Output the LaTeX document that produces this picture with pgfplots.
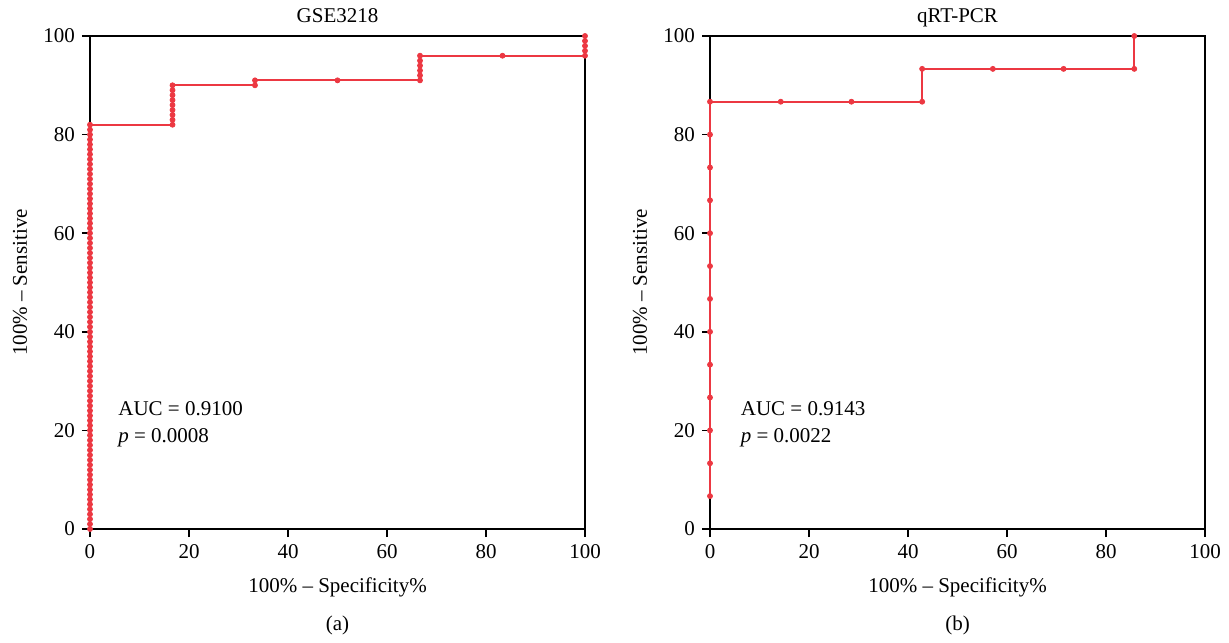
\documentclass[border=0pt]{standalone}
\usepackage{pgfplots}
\pgfplotsset{compat=1.18}
\usepackage{fontspec}
\setmainfont{Liberation Serif}
\definecolor{rocred}{RGB}{236,56,66}

\tikzset{roctext/.style={font=\fontsize{10.5}{12}\selectfont}}

\pgfplotsset{
  rocaxis/.style={
    scale only axis, width=247.5pt, height=246.5pt,
    xmin=0, xmax=100, ymin=0, ymax=100,
    xtick={0,20,...,100}, ytick={0,20,...,100},
    xtick pos=bottom, ytick pos=left, tick align=outside,
    major tick length=4pt,
    axis line style={black, line width=0.75pt},
    tick style={black, line width=0.75pt},
    /pgf/number format/assume math mode=true,
    ticklabel style={font=\fontsize{10.5}{12}\selectfont},
    label style={font=\fontsize{10.5}{12}\selectfont},
    xlabel={100\% -- Specificity\%},
    ylabel={100\% -- Sensitive},
    xlabel style={at={(axis description cs:0.5,-0.1278)}, anchor=base},
    ylabel style={at={(axis description cs:-0.1414,0.5)}, anchor=center},
    clip=false,
  },
  rocline/.style={rocred, line width=0.9pt, mark=*, mark size=1.25pt,
    mark options={fill=rocred, draw=rocred, line width=0.4pt}},
}

\begin{document}
\begin{tikzpicture}
% overall page frame
\path[use as bounding box] (-45pt,-56.5pt) rectangle (569.5pt,264.5pt);

\begin{axis}[rocaxis, at={(0pt,0pt)}, anchor=south west]
\addplot[rocline] coordinates {
 (0,0) (0,1) (0,2) (0,3) (0,4) (0,5) (0,6) (0,7) (0,8) (0,9)
 (0,10) (0,11) (0,12) (0,13) (0,14) (0,15) (0,16) (0,17) (0,18) (0,19)
 (0,20) (0,21) (0,22) (0,23) (0,24) (0,25) (0,26) (0,27) (0,28) (0,29)
 (0,30) (0,31) (0,32) (0,33) (0,34) (0,35) (0,36) (0,37) (0,38) (0,39)
 (0,40) (0,41) (0,42) (0,43) (0,44) (0,45) (0,46) (0,47) (0,48) (0,49)
 (0,50) (0,51) (0,52) (0,53) (0,54) (0,55) (0,56) (0,57) (0,58) (0,59)
 (0,60) (0,61) (0,62) (0,63) (0,64) (0,65) (0,66) (0,67) (0,68) (0,69)
 (0,70) (0,71) (0,72) (0,73) (0,74) (0,75) (0,76) (0,77) (0,78) (0,79)
 (0,80) (0,81) (0,82)
 (16.67,82) (16.67,83) (16.67,84) (16.67,85) (16.67,86) (16.67,87) (16.67,88) (16.67,89) (16.67,90)
 (33.33,90) (33.33,91)
 (50,91)
 (66.67,91) (66.67,92) (66.67,93) (66.67,94) (66.67,95) (66.67,96)
 (83.33,96)
 (100,96) (100,97) (100,98) (100,99) (100,100)
};
\node[roctext, anchor=base] at (axis description cs:0.5,1.0264) {GSE3218};
\node[roctext, anchor=west] at (axis cs:4.3,24.5) {AUC = 0.9100};
\node[roctext, anchor=west] at (axis cs:4.3,18.6) {\textit{p} = 0.0008};
\node[roctext, anchor=base] at (axis description cs:0.5,-0.2049) {(a)};
\end{axis}

\begin{axis}[rocaxis, at={(310pt,0pt)}, anchor=south west]
\addplot[rocline] coordinates {
 (0,6.67) (0,13.33) (0,20) (0,26.67) (0,33.33) (0,40) (0,46.67)
 (0,53.33) (0,60) (0,66.67) (0,73.33) (0,80) (0,86.67)
 (14.29,86.67) (28.57,86.67) (42.86,86.67) (42.86,93.33)
 (57.14,93.33) (71.43,93.33) (85.71,93.33) (85.71,100)
};
\node[roctext, anchor=base] at (axis description cs:0.5,1.0264) {qRT-PCR};
\node[roctext, anchor=west] at (axis cs:4.8,24.5) {AUC = 0.9143};
\node[roctext, anchor=west] at (axis cs:4.8,18.6) {\textit{p} = 0.0022};
\node[roctext, anchor=base] at (axis description cs:0.5,-0.2049) {(b)};
\end{axis}
\end{tikzpicture}
\end{document}
